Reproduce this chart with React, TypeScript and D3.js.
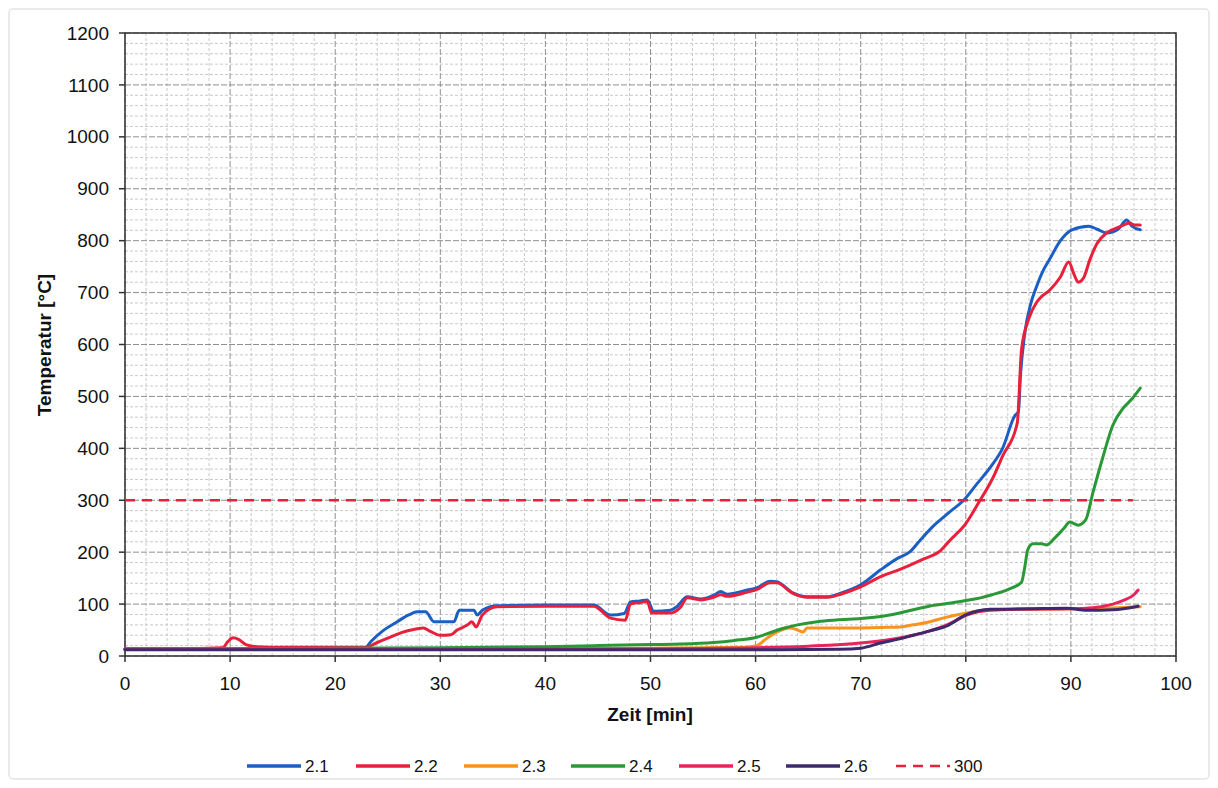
import React from "react";
import * as d3 from "d3";

type P = [number, number];

const xTicks = [0, 10, 20, 30, 40, 50, 60, 70, 80, 90, 100];
const yTicks = [0, 100, 200, 300, 400, 500, 600, 700, 800, 900, 1000, 1100, 1200];

const s21: P[] = [
  [0, 14], [5, 14], [10, 14], [15, 14], [20, 14], [22.8, 15], [23.4, 28], [24.5, 48], [25.9, 66], [27, 79],
  [27.8, 85], [28.6, 85], [29.4, 66], [31.3, 66], [31.8, 88], [33.2, 88], [33.5, 79], [34, 88], [35.4, 97],
  [40, 98], [44.6, 98], [46.2, 79], [47.5, 82], [48.1, 104], [49, 106], [49.7, 108], [50.3, 86], [51.9, 88],
  [52.5, 95], [53.5, 114], [54.8, 110], [56, 117], [56.7, 124], [57.3, 119], [59.2, 127], [60.1, 131],
  [61.4, 144], [62, 143], [63.6, 121], [64.9, 114], [66.8, 114], [68.1, 121], [70, 137], [71.9, 166],
  [73.5, 188], [74.7, 201], [75.7, 224], [77, 252], [78.5, 278], [79.8, 300], [81, 330], [82.5, 368],
  [83.5, 400], [84.7, 464], [85, 470], [85.2, 540], [85.6, 620], [86.2, 680], [86.7, 710], [87.3, 740],
  [88, 765], [89, 800], [90.1, 821], [91.7, 828], [92.5, 822], [93.4, 815], [94.5, 822], [95.3, 840],
  [95.8, 828], [96.6, 821],
];

const s22: P[] = [
  [0, 14], [5, 14], [9.3, 16], [9.8, 28], [10.3, 35], [10.8, 32], [11.5, 22], [12.5, 18], [15, 17], [20, 17],
  [22.9, 17], [24, 26], [25.3, 37], [26.3, 45], [27.2, 50], [28.4, 54], [29, 48], [30, 40], [31, 41],
  [31.6, 50], [32.6, 60], [33, 66], [33.4, 56], [34, 79], [35.4, 95], [40, 96], [44.6, 96], [46.2, 73],
  [47.6, 69], [48.1, 100], [49, 103], [49.7, 105], [50.1, 83], [51.9, 83], [52.9, 95], [53.5, 112],
  [54.8, 108], [56, 113], [56.7, 118], [57.3, 115], [59.2, 123], [60.1, 128], [61.4, 141], [62, 141],
  [63.6, 120], [64.9, 113], [66.8, 113], [68.1, 119], [70, 133], [71.9, 153], [73.5, 165], [74.7, 175],
  [76, 187], [77.6, 203], [78.5, 223], [80, 255], [81.3, 298], [82.5, 340], [83.5, 385], [84.9, 449],
  [85.3, 590], [86, 650], [86.7, 680], [87.1, 690], [88, 705], [89, 730], [89.8, 759], [90.3, 735],
  [90.7, 720], [91.2, 728], [91.8, 763], [92.5, 795], [93.4, 815], [94.7, 827], [95.6, 834], [96, 830],
  [96.6, 830],
];

const s23: P[] = [
  [0, 13], [20, 13], [40, 14], [50, 15], [55, 16], [59, 17], [60.1, 20], [61, 33], [62, 46], [63.3, 54],
  [64, 50], [64.5, 46], [64.9, 54], [68.7, 54], [72, 55], [73.8, 56], [75, 60], [76.6, 66], [78, 74],
  [80.1, 83], [82.3, 89], [85, 90], [90, 91], [93, 92], [96.6, 95],
];

const s24: P[] = [
  [0, 13], [10, 14], [20, 15], [30, 16], [40, 18], [45, 20], [50, 22], [52.9, 23], [56, 26], [58, 30],
  [60.1, 36], [61, 42], [62.4, 52], [64, 60], [66.2, 67], [68, 70], [70, 72], [71.9, 76], [73.5, 82],
  [75, 89], [76.5, 96], [78.2, 101], [80, 107], [81.4, 112], [82.5, 118], [84, 128], [85.3, 142],
  [85.6, 170], [85.9, 205], [86.4, 216], [87.2, 216], [87.7, 214], [88.5, 228], [89.3, 245], [89.9, 258],
  [90.7, 252], [91.4, 262], [92.1, 315], [93, 380], [94, 445], [95, 478], [95.8, 495], [96.6, 516],
];

const s25: P[] = [
  [0, 13], [30, 13], [50, 14], [60, 16], [65, 19], [70, 25], [72.5, 31], [75, 40], [76.5, 48], [78.2, 60],
  [80.1, 79], [82.3, 88], [85, 90], [90, 91], [92.1, 93], [94, 100], [95, 107], [96, 118], [96.4, 127],
];

const s26: P[] = [
  [0, 12], [20, 12], [40, 12], [60, 12], [68, 13], [70, 15], [71.9, 25], [73.5, 32], [75, 40], [76.5, 48],
  [78.2, 58], [80.1, 80], [82.3, 90], [86, 91], [89.6, 92], [91.5, 88], [94, 89], [96.4, 96],
];

const limit300: P[] = [[0, 300], [95.9, 300]];

const seriesNames = ["2.1", "2.2", "2.3", "2.4", "2.5", "2.6", "300"];
const seriesData = [s21, s22, s23, s24, s25, s26, limit300];
const seriesColors = ["#1b5fc4", "#e8203c", "#f7931e", "#2b9837", "#e8245a", "#3d2a6e", "#e8203c"];
const legendX = [247, 356, 464, 571, 679, 786, 896];

export default function App() {
  const W = 1218, H = 788;
  const L = 125, R = 1176, T = 33, B = 656;
  const x = d3.scaleLinear().domain([0, 100]).range([L, R]);
  const y = d3.scaleLinear().domain([0, 1200]).range([B, T]);
  const line = d3.line<P>().x(d => x(d[0])).y(d => y(d[1])).curve(d3.curveMonotoneX);
  const font = "Arial, 'Liberation Sans', sans-serif";

  const minorX = d3.range(0, 101, 2).filter(v => v % 10 !== 0);
  const minorY = d3.range(0, 1201, 20).filter(v => v % 100 !== 0);

  return (
    <svg width={W} height={H} style={{ position: "absolute", left: 0, top: 0, background: "#fff" }} fontFamily={font}>
      <rect x={9} y={9} width={W - 18} height={H - 18} fill="none" stroke="#e4e4e4" strokeWidth={1.5} rx={4} />
      {minorX.map(v => (
        <line key={"mx" + v} x1={x(v)} x2={x(v)} y1={T} y2={B} stroke="#c9c9c9" strokeWidth={1} strokeDasharray="3,2" />
      ))}
      {minorY.map(v => (
        <line key={"my" + v} x1={L} x2={R} y1={y(v)} y2={y(v)} stroke="#c9c9c9" strokeWidth={1} strokeDasharray="3,2" />
      ))}
      {xTicks.map(v => (
        <line key={"gx" + v} x1={x(v)} x2={x(v)} y1={T} y2={B} stroke="#8f8f8f" strokeWidth={1} strokeDasharray="6,2" />
      ))}
      {yTicks.map(v => (
        <line key={"gy" + v} x1={L} x2={R} y1={y(v)} y2={y(v)} stroke="#8f8f8f" strokeWidth={1} strokeDasharray="6,2" />
      ))}
      <rect x={L} y={T} width={R - L} height={B - T} fill="none" stroke="#333" strokeWidth={1.5} />
      {xTicks.map(v => (
        <g key={"xt" + v}>
          <line x1={x(v)} x2={x(v)} y1={B} y2={B + 6} stroke="#333" strokeWidth={1.5} />
          <text x={x(v)} y={690} textAnchor="middle" fontSize={19} fill="#111">{v}</text>
        </g>
      ))}
      {yTicks.map(v => (
        <g key={"yt" + v}>
          <line x1={L - 6} x2={L} y1={y(v)} y2={y(v)} stroke="#333" strokeWidth={1.5} />
          <text x={109} y={y(v)} dy="0.35em" textAnchor="end" fontSize={19} fill="#111">{v}</text>
        </g>
      ))}
      <text x={650} y={721} textAnchor="middle" fontSize={19} fontWeight="bold" fill="#111">Zeit [min]</text>
      <text transform={`translate(51,345) rotate(-90)`} textAnchor="middle" fontSize={19} fontWeight="bold" fill="#111">Temperatur [°C]</text>
      {seriesData.map((d, i) => (
        <path key={"s" + i} d={line(d) || ""} fill="none" stroke={seriesColors[i]}
          strokeWidth={i === 6 ? 2.5 : 3} strokeDasharray={i === 6 ? "10,7" : undefined}
          strokeLinejoin="round" strokeLinecap={i === 6 ? "butt" : "round"} />
      ))}
      {seriesNames.map((n, i) => (
        <g key={"lg" + i}>
          <line x1={legendX[i]} x2={legendX[i] + 54} y1={766} y2={766} stroke={seriesColors[i]}
            strokeWidth={i === 6 ? 2.5 : 3.5} strokeDasharray={i === 6 ? "10,7" : undefined} />
          <text x={legendX[i] + 58} y={766} dy="0.35em" fontSize={17} fill="#111">{n}</text>
        </g>
      ))}
    </svg>
  );
}
